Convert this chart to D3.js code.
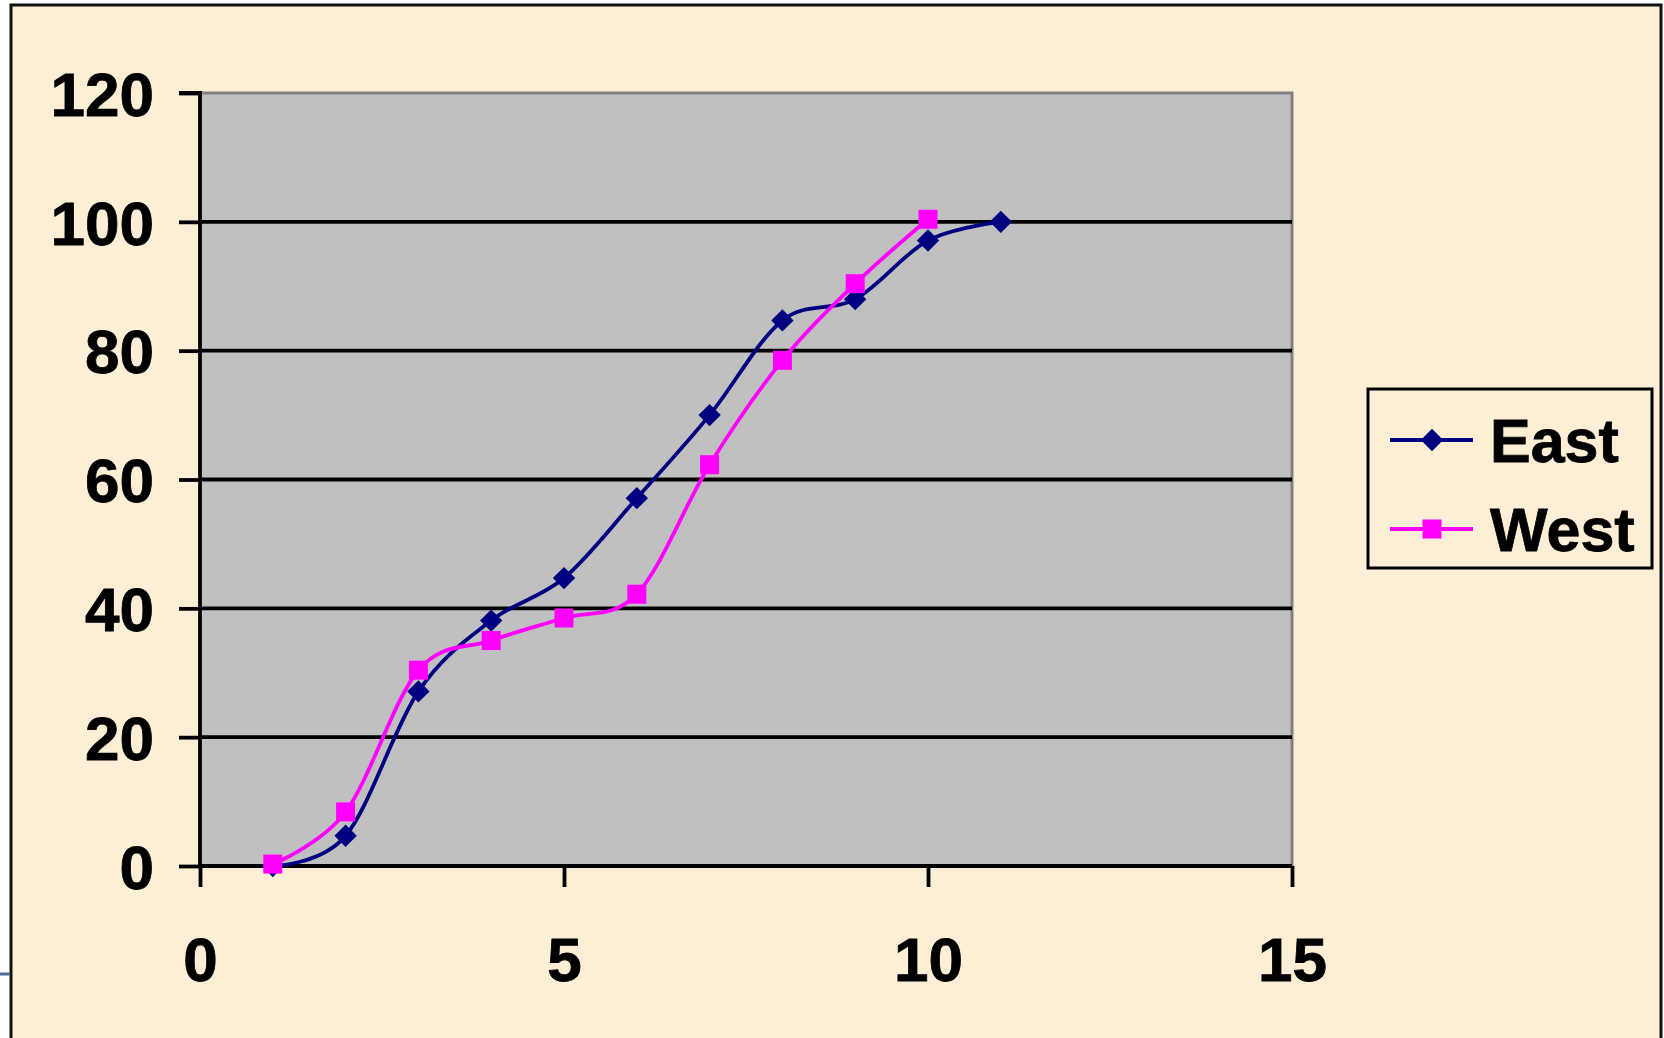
<!DOCTYPE html>
<html>
<head>
<meta charset="utf-8">
<script src="https://cdn.jsdelivr.net/npm/d3@7"></script>
<style>
  html, body { margin: 0; padding: 0; background: #ffffff; }
  svg { display: block; }
  text { font-family: "Liberation Sans", Arial, sans-serif; font-weight: bold; fill: #000; }
</style>
</head>
<body>
<script>
// Cumulative values by step for the two regions
const eastX = [1, 2, 3, 4, 5, 6, 7, 8, 9, 10, 11];
const eastY = [0, 4.7, 27.1, 38.1, 44.7, 57.1, 70.0, 84.7, 88.0, 97.1, 100];
const westX = [1, 2, 3, 4, 5, 6, 7, 8, 9, 10];
const westY = [0.3, 8.4, 30.4, 35.0, 38.5, 42.2, 62.3, 78.5, 90.4, 100.4];
const xTicks = [0, 5, 10, 15];
const yTicks = [0, 20, 40, 60, 80, 100, 120];
const seriesNames = ["East", "West"];

const W = 1664, H = 1038;
const FONT = '"Liberation Sans", Arial, sans-serif';
const svg = d3.select("body").append("svg").attr("width", W).attr("height", H);

// Chart area with cream fill and dark frame
svg.append("rect").attr("x", 11).attr("y", 5).attr("width", 1650).attr("height", 1100)
  .attr("fill", "#fcefd6").attr("stroke", "#111").attr("stroke-width", 3);

// small fragment at left edge
svg.append("line").attr("x1", 0).attr("x2", 10).attr("y1", 974).attr("y2", 974)
  .attr("stroke", "#4a6a9a").attr("stroke-width", 3);

const plot = { left: 200, right: 1292, top: 93, bottom: 866 };
const x = d3.scaleLinear().domain([0, 15]).range([plot.left, plot.right]);
const y = d3.scaleLinear().domain([0, 120]).range([plot.bottom, plot.top]);

// Plot area
svg.append("rect").attr("x", plot.left).attr("y", plot.top)
  .attr("width", plot.right - plot.left).attr("height", plot.bottom - plot.top)
  .attr("fill", "#c0c0c0");
// gray frame on top and right
svg.append("path")
  .attr("d", `M${plot.left},${plot.top}H${plot.right}V${plot.bottom}`)
  .attr("fill", "none").attr("stroke", "#808080").attr("stroke-width", 3);

// Horizontal gridlines
svg.append("g").selectAll("line").data(yTicks.filter(t => t > 0 && t < 120)).join("line")
  .attr("x1", plot.left).attr("x2", plot.right)
  .attr("y1", d => y(d)).attr("y2", d => y(d))
  .attr("stroke", "#000").attr("stroke-width", 3.8);

function styleTickText(sel, dy) {
  sel.attr("dy", dy).attr("fill", "#000")
    .style("font-size", "62px").style("font-family", FONT).style("font-weight", "bold")
    .attr("stroke", "#000").attr("stroke-width", 0.8);
}

// Y axis
const yAxis = svg.append("g").attr("transform", `translate(${plot.left},0)`)
  .call(d3.axisLeft(y).tickValues(yTicks).tickSize(21).tickPadding(25));
yAxis.select(".domain").attr("stroke", "#000").attr("stroke-width", 3.8)
  .attr("d", `M-21,${plot.top}H0V${plot.bottom}`);
yAxis.selectAll(".tick line").attr("stroke", "#000").attr("stroke-width", 3.8);
styleTickText(yAxis.selectAll(".tick text"), "0.36em");

// X axis
const xAxis = svg.append("g").attr("transform", `translate(0,${plot.bottom})`)
  .call(d3.axisBottom(x).tickValues(xTicks).tickSize(21).tickPadding(50));
xAxis.select(".domain").attr("stroke", "#000").attr("stroke-width", 3.8)
  .attr("d", `M${plot.left},0H${plot.right}`);
xAxis.selectAll(".tick line").attr("stroke", "#000").attr("stroke-width", 3.8);
styleTickText(xAxis.selectAll(".tick text"), "0.71em");

// Smoothed series lines
const line = d3.line().x(d => x(d[0])).y(d => y(d[1])).curve(d3.curveCatmullRom.alpha(0));
const east = eastX.map((v, i) => [v, eastY[i]]);
const west = westX.map((v, i) => [v, westY[i]]);
const colors = { East: "#000080", West: "#ff00ff" };

svg.append("path").datum(east).attr("d", line).attr("fill", "none")
  .attr("stroke", colors.East).attr("stroke-width", 3.8);
svg.append("path").datum(west).attr("d", line).attr("fill", "none")
  .attr("stroke", colors.West).attr("stroke-width", 3.8);

const diamondPath = d3.symbol().type(d3.symbolSquare).size(250);
svg.append("g").selectAll("path").data(east).join("path")
  .attr("transform", d => `translate(${x(d[0])},${y(d[1])}) rotate(45)`)
  .attr("d", diamondPath)
  .attr("fill", colors.East);
svg.append("g").selectAll("rect").data(west).join("rect")
  .attr("x", d => x(d[0]) - 9.5).attr("y", d => y(d[1]) - 9.5)
  .attr("width", 19).attr("height", 19).attr("fill", colors.West);

// Legend
const lg = svg.append("g");
lg.append("rect").attr("x", 1368).attr("y", 389).attr("width", 284).attr("height", 179)
  .attr("fill", "none").attr("stroke", "#000").attr("stroke-width", 3);
const rows = [{ name: seriesNames[0], cy: 440 }, { name: seriesNames[1], cy: 529 }];
rows.forEach(r => {
  lg.append("line").attr("x1", 1390).attr("x2", 1473).attr("y1", r.cy).attr("y2", r.cy)
    .attr("stroke", colors[r.name]).attr("stroke-width", 3.8);
  if (r.name === "East") {
    lg.append("path").attr("transform", `translate(1432,${r.cy}) rotate(45)`)
      .attr("d", diamondPath).attr("fill", colors.East);
  } else {
    lg.append("rect").attr("x", 1422.5).attr("y", r.cy - 9.5).attr("width", 19).attr("height", 19)
      .attr("fill", colors.West);
  }
  lg.append("text").attr("x", 1490).attr("y", r.cy + 22)
    .style("font-size", "61px").attr("stroke", "#000").attr("stroke-width", 0.8)
    .text(r.name);
});
</script>
</body>
</html>
